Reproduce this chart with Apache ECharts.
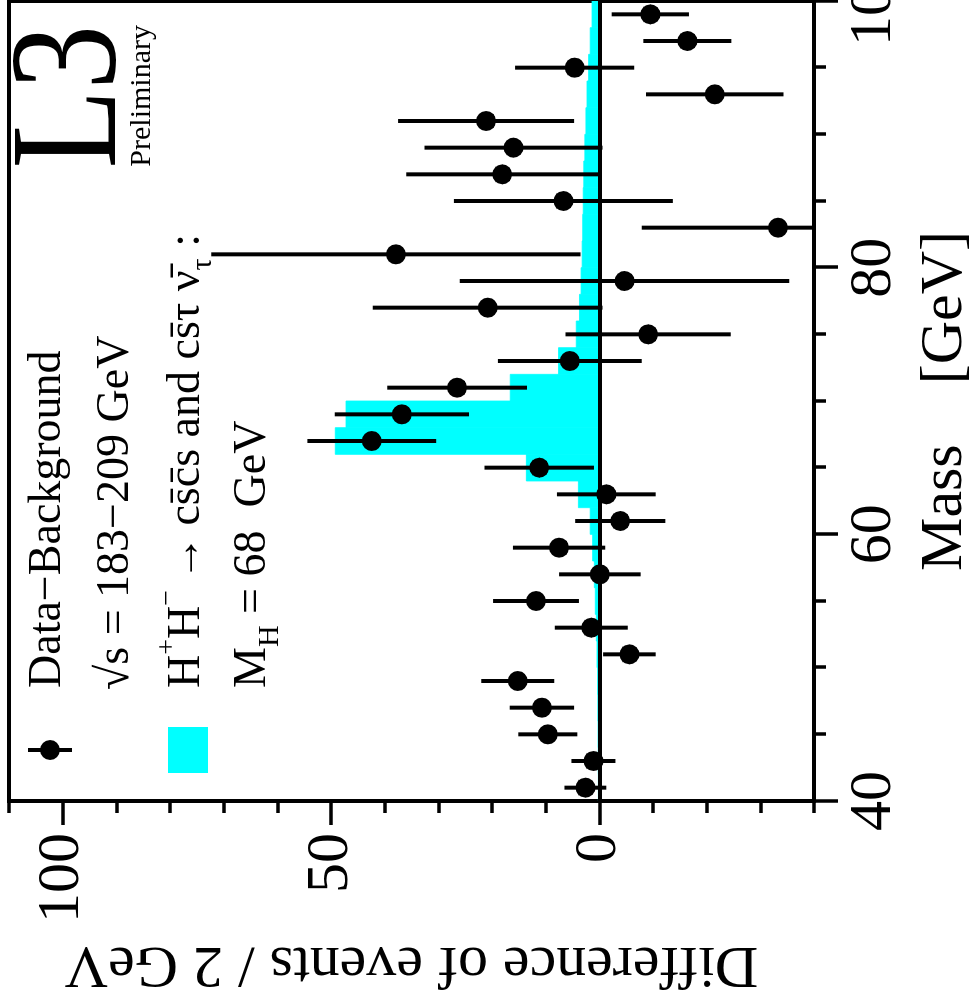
<!DOCTYPE html>
<html>
<head>
<meta charset="utf-8">
<script src="https://cdn.jsdelivr.net/npm/echarts@6.0.0/dist/echarts.min.js"></script>
<style>
html, body { margin: 0; padding: 0; width: 974px; height: 991px; overflow: hidden; background: #ffffff; }
#chart { position: absolute; left: 0; top: 0; width: 991px; height: 974px;
         transform-origin: 0 0; transform: translate(0px, 991px) rotate(-90deg); }
</style>
</head>
<body>
<div id="chart"></div>
<script>
// ---- data ----
const massCenters = [41, 43, 45, 47, 49, 51, 53, 55, 57, 59, 61, 63, 65, 67, 69,
                     71, 73, 75, 77, 79, 81, 83, 85, 87, 89, 91, 93, 95, 97, 99];
const diffValues  = [2.6, 1.1, 9.6, 10.7, 15.2, -5.6, 1.5, 11.8, -0.1, 7.5, -3.9, -1.3, 11.2, 42.4, 36.8,
                     26.5, 5.5, -9.1, 20.8, -4.7, 37.9, -33.3, 6.7, 18.1, 16.0, 21.1, -21.5, 4.6, -16.4, -9.5];
const diffErrors  = [3.9, 4.1, 5.5, 6.0, 6.8, 4.9, 6.8, 8.0, 7.6, 8.6, 8.4, 9.2, 10.2, 12.0, 12.5,
                     13.0, 13.4, 15.4, 21.4, 30.7, 34.4, 25.4, 20.4, 17.9, 16.6, 16.4, 12.8, 11.1, 8.2, 7.2];
const sigBinLow   = [40, 42, 44, 46, 48, 50, 52, 54, 56, 58, 60, 62, 64, 66, 68,
                     70, 72, 74, 76, 78, 80, 82, 84, 86, 88, 90, 92, 94, 96, 98];
const sigBinHigh  = [42, 44, 46, 48, 50, 52, 54, 56, 58, 60, 62, 64, 66, 68, 70,
                     72, 74, 76, 78, 80, 82, 84, 86, 88, 90, 92, 94, 96, 98, 100];
const sigValues   = [0.18, 0.2, 0.24, 0.28, 0.32, 0.43, 0.56, 0.75, 0.93, 1.25, 1.7, 3.9, 13.6, 49.2, 47.2,
                     16.6, 7.6, 4.3, 3.7, 3.4, 3.2, 3.1, 3.0, 2.9, 2.7, 2.5, 2.3, 2.0, 1.7, 1.36];
const massTickLabels = [40, 60, 80, 100];
const diffTickLabels = [0, 50, 100];

const FONT = "'Liberation Serif', 'Times New Roman', serif";
const chart = echarts.init(document.getElementById('chart'), null, { renderer: 'canvas' });

const option = {
  animation: false,
  backgroundColor: '#ffffff',
  grid: {
    left: 190, right: 1, top: 9, bottom: 160,
    show: true, borderColor: '#000', borderWidth: 4, backgroundColor: 'transparent',
    containLabel: false, outerBoundsMode: 'none'
  },
  xAxis: {
    type: 'value', min: 40, max: 100, interval: 20, position: 'bottom',
    axisLine: { show: true, onZero: false, lineStyle: { color: '#000', width: 4 } },
    axisTick: { show: true, inside: false, length: 24, lineStyle: { color: '#000', width: 3.5 } },
    minorTick: { show: true, splitNumber: 4, length: 12, lineStyle: { color: '#000', width: 3.5 } },
    axisLabel: { margin: 30, fontFamily: FONT, fontSize: 60, color: '#000',
                 formatter: v => massTickLabels.includes(v) ? String(v) : '' },
    splitLine: { show: false }, minorSplitLine: { show: false },
    name: 'Mass    [GeV]', nameLocation: 'middle', nameGap: 101,
    nameTextStyle: { fontFamily: FONT, fontSize: 60, color: '#000' }
  },
  yAxis: [
    {
      type: 'value', min: -40, max: 110, interval: 10, position: 'left',
      axisLine: { show: true, onZero: false, lineStyle: { color: '#000', width: 4 } },
      axisTick: { show: true, inside: false, length: 12, lineStyle: { color: '#000', width: 3.5 } },
      axisLabel: { margin: 32, fontFamily: FONT, fontSize: 60, color: '#000',
                   formatter: v => diffTickLabels.includes(v) ? String(v) : '' },
      splitLine: { show: false },
      name: 'Difference of events / 2 GeV', nameLocation: 'middle', nameRotate: 90, nameGap: 124,
      nameTextStyle: { fontFamily: FONT, fontSize: 60, color: '#000' }
    },
    {
      type: 'value', min: -40, max: 110, interval: 10, position: 'left', offset: 0,
      axisLine: { show: false },
      axisTick: { show: true, inside: false, length: 24, customValues: diffTickLabels,
                  lineStyle: { color: '#000', width: 3.5 } },
      axisLabel: { show: false },
      splitLine: { show: false }
    }
  ],
  series: [
    {
      type: 'custom', name: 'signal', z: 1, clip: true,
      data: sigBinLow.map((lo, i) => [lo, sigBinHigh[i], sigValues[i]]),
      encode: { x: [0, 1], y: 2 },
      renderItem: (params, api) => {
        const p0 = api.coord([api.value(0), 0]);
        const p1 = api.coord([api.value(1), api.value(2)]);
        return {
          type: 'rect',
          shape: { x: p0[0], y: p1[1], width: p1[0] - p0[0], height: p0[1] - p1[1] },
          style: { fill: '#00ffff', stroke: '#00ffff', lineWidth: 0.8 }
        };
      }
    },
    {
      type: 'line', name: 'zero', z: 2, data: [], symbol: 'none',
      markLine: {
        silent: true, symbol: 'none', z: 2,
        label: { show: false },
        lineStyle: { color: '#000', width: 4, type: 'solid' },
        data: [{ yAxis: 0 }]
      }
    },
    {
      type: 'custom', name: 'Data−Background', z: 3, clip: true,
      data: massCenters.map((m, i) => [m, diffValues[i], diffErrors[i]]),
      encode: { x: 0, y: 1 },
      renderItem: (params, api) => {
        const m = api.value(0), v = api.value(1), e = api.value(2);
        const lo = api.coord([m, v - e]);
        const hi = api.coord([m, v + e]);
        const c = api.coord([m, v]);
        return {
          type: 'group',
          children: [
            { type: 'line', shape: { x1: lo[0], y1: lo[1], x2: hi[0], y2: hi[1] },
              style: { stroke: '#000', lineWidth: 4 } },
            { type: 'circle', shape: { cx: c[0], cy: c[1], r: 10 }, style: { fill: '#000' } }
          ]
        };
      }
    }
  ],
  graphic: [
    // legend marker: data point with error bar
    { type: 'line', shape: { x1: 241, y1: 28, x2: 241, y2: 72 }, style: { stroke: '#000', lineWidth: 4 }, z: 10 },
    { type: 'circle', shape: { cx: 241, cy: 50, r: 10 }, style: { fill: '#000' }, z: 10 },
    // legend marker: signal box
    { type: 'rect', shape: { x: 218, y: 168, width: 46, height: 40 }, style: { fill: '#00ffff' }, z: 10 },
    { type: 'text', x: 303, y: 48, z: 10,
      style: { text: 'Data\u2212Background', fontFamily: FONT, fontSize: 46, fill: '#000', align: 'left', verticalAlign: 'middle' } },
    { type: 'text', x: 301, y: 116, z: 10,
      style: { text: '\u221As = 183\u2212209 GeV', fontFamily: FONT, fontSize: 46, fill: '#000', align: 'left', verticalAlign: 'middle' } },
    { type: 'text', x: 303, y: 187, z: 10,
      style: {
        text: '{m|H}{sup|+}{m|H}{sup|\u2212}{m|\u2009\u2192\u2009cs\u0304c\u0304s and cs\u0304\u03C4 \u03BD\u0304}{sub|\u03C4}{m| :}',
        fontFamily: FONT, fontSize: 46, fill: '#000', align: 'left', verticalAlign: 'middle',
        rich: {
          m: { fontFamily: FONT, fontSize: 46, fill: '#000' },
          sup: { fontFamily: FONT, fontSize: 28, fill: '#000', padding: [0, 0, 38, 0] },
          sub: { fontFamily: FONT, fontSize: 30, fill: '#000', padding: [33, 0, 0, 0] }
        }
      } },
    { type: 'text', x: 303, y: 253, z: 10,
      style: {
        text: '{m|M}{sub|H}{m| = 68  GeV}',
        fontFamily: FONT, fontSize: 46, fill: '#000', align: 'left', verticalAlign: 'middle',
        rich: {
          m: { fontFamily: FONT, fontSize: 46, fill: '#000' },
          sub: { fontFamily: FONT, fontSize: 30, fill: '#000', padding: [35, 0, 0, 0] }
        }
      } },
    // experiment label
    { type: 'text', x: 966, y: 75, scaleX: 0.85, z: 10,
      style: { text: 'L3', fontFamily: FONT, fontSize: 152, fill: '#000', align: 'right', verticalAlign: 'middle' } },
    { type: 'text', x: 966, y: 142, z: 10,
      style: { text: 'Preliminary', fontFamily: FONT, fontSize: 30, fill: '#000', align: 'right', verticalAlign: 'middle' } }
  ]
};
chart.setOption(option);
</script>
</body>
</html>
